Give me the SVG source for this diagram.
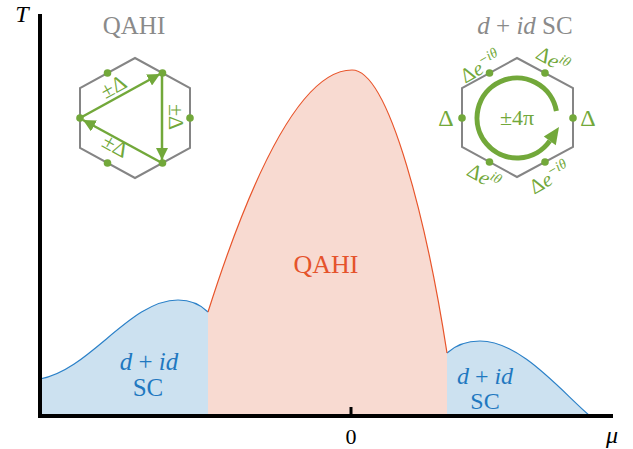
<svg xmlns="http://www.w3.org/2000/svg" width="633" height="449" viewBox="0 0 633 449">
<style>
text{font-family:"Liberation Serif","Times New Roman",serif}
.it{font-style:italic}
.gray{fill:#8a8a8a}
.green{fill:#72a83a}
.blue{fill:#1f78c0}
.hex{fill:none;stroke:#858585;stroke-width:2}
.gl{stroke:#72a83a;stroke-width:2.5;fill:none}
.dot{fill:#72a83a}
</style>
<defs>
<marker id="ah" viewBox="0 0 10 10" refX="10" refY="5" markerWidth="5" markerHeight="5" orient="auto" markerUnits="strokeWidth">
<path d="M0,0 L10,5 L0,10 Z" fill="#72a83a"/>
</marker>
</defs>
<rect width="633" height="449" fill="#fff"/>

<g id="phase-regions">
<path d="M40,416 L40,379 C90,370 130,300 178,300 C192,300 202,306 208,312 L208,416 Z" fill="#cce1f0"/>
<path d="M447,416 L447,353 C458,343 470,341 480,341 C520,341 560,390 590,416 Z" fill="#cce1f0"/>
<path d="M208,416 L208,312 C250,180 300,70 352,70 C390,70 428,230 447,353 L447,416 Z" fill="#f8dad1"/>
<path d="M40,379 C90,370 130,300 178,300 C192,300 202,306 208,312" fill="none" stroke="#2a80c8" stroke-width="1.2"/>
<path d="M447,353 C458,343 470,341 480,341 C520,341 560,390 590,416" fill="none" stroke="#2a80c8" stroke-width="1.2"/>
<path d="M208,312 C250,180 300,70 352,70 C390,70 428,230 447,353" fill="none" stroke="#e8542a" stroke-width="1.2"/>
</g>

<g id="axes">
<line x1="40" y1="14" x2="40" y2="418" stroke="#000" stroke-width="4"/>
<line x1="38" y1="416" x2="613" y2="416" stroke="#000" stroke-width="4"/>
<line x1="351" y1="407" x2="351" y2="416" stroke="#000" stroke-width="3"/>
<text x="22" y="22" class="it" font-size="24" text-anchor="middle">T</text>
<text x="351" y="444" font-size="22" text-anchor="middle">0</text>
<text x="612" y="443" class="it" font-size="24" text-anchor="middle">μ</text>
</g>

<g id="label-qahi-main">
<text x="326" y="273" font-size="26" fill="#e5532b" text-anchor="middle">QAHI</text>
</g>
<g id="label-sc-left" class="blue" font-size="25" text-anchor="middle">
<text x="149" y="370"><tspan class="it">d</tspan> + <tspan class="it">id</tspan></text>
<text x="148" y="396">SC</text>
</g>
<g id="label-sc-right" class="blue" font-size="24" text-anchor="middle">
<text x="485" y="384"><tspan class="it">d</tspan> + <tspan class="it">id</tspan></text>
<text x="485" y="409">SC</text>
</g>

<g id="inset-qahi">
<text x="134" y="34" class="gray" font-size="25" text-anchor="middle">QAHI</text>
<polygon class="hex" points="135,58 190,88 190,148 135,178 80,148 80,88"/>
<line class="gl" x1="80" y1="118" x2="160" y2="74" marker-end="url(#ah)"/>
<line class="gl" x1="162" y1="73" x2="162" y2="160" marker-end="url(#ah)"/>
<line class="gl" x1="162" y1="163" x2="83" y2="120" marker-end="url(#ah)"/>
<circle class="dot" cx="107.5" cy="73" r="3.8"/>
<circle class="dot" cx="162.5" cy="73" r="3.8"/>
<circle class="dot" cx="190" cy="118" r="3.8"/>
<circle class="dot" cx="162.5" cy="163" r="3.8"/>
<circle class="dot" cx="107.5" cy="163" r="3.8"/>
<circle class="dot" cx="80" cy="118" r="3.8"/>
<text transform="translate(117,93) rotate(-29)" class="green" font-size="22" text-anchor="middle">±Δ</text>
<text transform="translate(169,117) rotate(90)" class="green" font-size="22" text-anchor="middle">±Δ</text>
<text transform="translate(112,152) rotate(29)" class="green" font-size="22" text-anchor="middle">±Δ</text>
</g>

<g id="inset-sc">
<text x="525" y="34" class="gray" font-size="25" text-anchor="middle"><tspan class="it">d</tspan> + <tspan class="it">id</tspan> SC</text>
<polygon class="hex" points="517,58 573,88 573,147 517,177 462,147 462,88"/>
<path d="M556.4,111 A40,40 0 1 0 549.8,140.9" fill="none" stroke="#72a83a" stroke-width="5"/>
<polygon points="559,127 555.8,145.2 543.8,136.6" fill="#72a83a"/>
<circle class="dot" cx="489.5" cy="73" r="3.8"/>
<circle class="dot" cx="545" cy="73" r="3.8"/>
<circle class="dot" cx="573" cy="118" r="3.8"/>
<circle class="dot" cx="545" cy="162" r="3.8"/>
<circle class="dot" cx="489.5" cy="162" r="3.8"/>
<circle class="dot" cx="462" cy="118" r="3.8"/>
<text x="517" y="125" class="green" font-size="22" text-anchor="middle">±4π</text>
<text x="446" y="126" class="green" font-size="24" text-anchor="middle">Δ</text>
<text x="588" y="126" class="green" font-size="24" text-anchor="middle">Δ</text>
<text transform="translate(484,73) rotate(-30)" class="green" font-size="21" text-anchor="middle">Δ<tspan class="it">e</tspan><tspan class="it" font-size="14" dy="-8">−iθ</tspan></text>
<text transform="translate(549,66) rotate(30)" class="green" font-size="21" text-anchor="middle">Δ<tspan class="it">e</tspan><tspan class="it" font-size="14" dy="-8">iθ</tspan></text>
<text transform="translate(480,183) rotate(30)" class="green" font-size="21" text-anchor="middle">Δ<tspan class="it">e</tspan><tspan class="it" font-size="14" dy="-8">iθ</tspan></text>
<text transform="translate(553,184) rotate(-30)" class="green" font-size="21" text-anchor="middle">Δ<tspan class="it">e</tspan><tspan class="it" font-size="14" dy="-8">−iθ</tspan></text>
</g>
</svg>
